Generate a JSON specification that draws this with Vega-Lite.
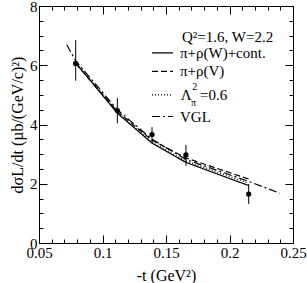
{
  "$schema": "https://vega.github.io/schema/vega-lite/v6.json",
  "width": 254,
  "height": 237,
  "autosize": {"type": "none"},
  "padding": {"left": 39, "top": 6, "right": 14, "bottom": 40},
  "config": {
    "view": {"stroke": "black", "strokeWidth": 1},
    "font": "Liberation Serif",
    "axis": {"domainColor": "black", "tickColor": "black", "labelColor": "black", "titleColor": "black", "labelFont": "Liberation Serif", "titleFont": "Liberation Serif", "labelFontSize": 15, "titleFontSize": 16, "titleFontWeight": "normal", "grid": false, "labelOverlap": false, "labelFlush": false, "labelBound": false}
  },
  "datasets": {
    "curves": [
      {"series": "solid", "t": 0.0789, "s": 6.08},
      {"series": "solid", "t": 0.1117, "s": 4.38},
      {"series": "solid", "t": 0.139, "s": 3.37},
      {"series": "solid", "t": 0.1657, "s": 2.72},
      {"series": "solid", "t": 0.215, "s": 1.94},
      {"series": "dashed", "t": 0.0789, "s": 6.06},
      {"series": "dashed", "t": 0.1117, "s": 4.44},
      {"series": "dashed", "t": 0.139, "s": 3.47},
      {"series": "dashed", "t": 0.1657, "s": 2.87},
      {"series": "dashed", "t": 0.215, "s": 2.16},
      {"series": "dotted", "t": 0.0789, "s": 6.1},
      {"series": "dotted", "t": 0.1117, "s": 4.4},
      {"series": "dotted", "t": 0.139, "s": 3.4},
      {"series": "dotted", "t": 0.1657, "s": 2.77},
      {"series": "dotted", "t": 0.215, "s": 2.02},
      {"series": "vgl", "t": 0.0718, "s": 6.69},
      {"series": "vgl", "t": 0.0789, "s": 6.15},
      {"series": "vgl", "t": 0.1117, "s": 4.5},
      {"series": "vgl", "t": 0.139, "s": 3.5},
      {"series": "vgl", "t": 0.1657, "s": 2.82},
      {"series": "vgl", "t": 0.215, "s": 2.08},
      {"series": "vgl", "t": 0.2398, "s": 1.68}
    ],
    "points": [
      {"t": 0.0789, "s": 6.06, "lo": 5.48, "hi": 6.85},
      {"t": 0.1117, "s": 4.47, "lo": 4.04, "hi": 4.89},
      {"t": 0.139, "s": 3.66, "lo": 3.39, "hi": 3.91},
      {"t": 0.1657, "s": 2.97, "lo": 2.6, "hi": 3.31},
      {"t": 0.2151, "s": 1.65, "lo": 1.32, "hi": 1.99}
    ],
    "legendLines": [
      {"series": "solid", "x1": 0.139, "x2": 0.1555, "y": 6.42},
      {"series": "dashed", "x1": 0.139, "x2": 0.1555, "y": 5.79},
      {"series": "dotted", "x1": 0.139, "x2": 0.1555, "y": 5.0},
      {"series": "vgl", "x1": 0.139, "x2": 0.1555, "y": 4.27}
    ],
    "legendText": [
      {"label": "Q²=1.6, W=2.2", "x": 0.1626, "y": 6.96, "kind": "big"},
      {"label": "π+ρ(W)+cont.", "x": 0.161, "y": 6.42, "kind": "big"},
      {"label": "π+ρ(V)", "x": 0.161, "y": 5.79, "kind": "big"},
      {"label": "Λ", "x": 0.1617, "y": 5.0, "kind": "big"},
      {"label": "π", "x": 0.1696, "y": 4.73, "kind": "small"},
      {"label": "2", "x": 0.1706, "y": 5.27, "kind": "small"},
      {"label": "=0.6", "x": 0.1768, "y": 5.0, "kind": "big"},
      {"label": "VGL", "x": 0.161, "y": 4.27, "kind": "big"}
    ]
  },
  "layer": [
    {
      "data": {"name": "curves"},
      "mark": {"type": "line", "color": "black", "strokeWidth": 1.2, "clip": true},
      "encoding": {
        "x": {"field": "t", "type": "quantitative", "scale": {"domain": [0.05, 0.25], "nice": false, "zero": false},
          "axis": {"orient": "bottom", "title": "-t (GeV²)", "titlePadding": 3,
            "values": [0.05,0.06,0.07,0.08,0.09,0.1,0.11,0.12,0.13,0.14,0.15,0.16,0.17,0.18,0.19,0.2,0.21,0.22,0.23,0.24,0.25],
            "format": ".2~f",
            "labelExpr": "round(datum.value*100) % 5 === 0 ? datum.label : ''",
            "tickSize": {"condition": {"test": "round(datum.value*100) % 5 === 0", "value": -8}, "value": -4},
            "labelPadding": 10}},
        "y": {"field": "s", "type": "quantitative", "scale": {"domain": [0, 8], "nice": false, "zero": false},
          "axis": {"orient": "left", "title": "dσL/dt (µb/(GeV/c)²)", "titlePadding": 4,
            "values": [0,0.5,1,1.5,2,2.5,3,3.5,4,4.5,5,5.5,6,6.5,7,7.5,8],
            "format": ".1~f",
            "labelExpr": "datum.value % 2 === 0 ? datum.label : ''",
            "tickSize": {"condition": {"test": "datum.value % 2 === 0", "value": -8}, "value": -4},
            "labelPadding": 10}},
        "detail": {"field": "series"},
        "strokeDash": {"field": "series", "type": "nominal", "legend": null,
          "scale": {"domain": ["solid", "dashed", "dotted", "vgl"], "range": [[1, 0], [6, 3], [1, 2], [8, 3, 2, 3]]}}
      }
    },
    {
      "data": {"name": "points"},
      "mark": {"type": "rule", "color": "black", "strokeWidth": 1},
      "encoding": {
        "x": {"field": "t", "type": "quantitative",
          "axis": {"orient": "top", "title": null, "labels": false,
            "values": [0.05,0.06,0.07,0.08,0.09,0.1,0.11,0.12,0.13,0.14,0.15,0.16,0.17,0.18,0.19,0.2,0.21,0.22,0.23,0.24,0.25],
            "tickSize": {"condition": {"test": "round(datum.value*100) % 5 === 0", "value": -8}, "value": -4}}},
        "y": {"field": "lo", "type": "quantitative",
          "axis": {"orient": "right", "title": null, "labels": false,
            "values": [0,0.5,1,1.5,2,2.5,3,3.5,4,4.5,5,5.5,6,6.5,7,7.5,8],
            "tickSize": {"condition": {"test": "datum.value % 2 === 0", "value": -8}, "value": -4}}},
        "y2": {"field": "hi"}
      }
    },
    {
      "data": {"name": "points"},
      "mark": {"type": "circle", "color": "black", "opacity": 1, "size": 28},
      "encoding": {
        "x": {"field": "t", "type": "quantitative", "axis": null},
        "y": {"field": "s", "type": "quantitative", "axis": null}
      }
    },
    {
      "data": {"name": "legendLines"},
      "mark": {"type": "rule", "color": "black", "strokeWidth": 1.2},
      "encoding": {
        "x": {"field": "x1", "type": "quantitative", "axis": null},
        "x2": {"field": "x2"},
        "y": {"field": "y", "type": "quantitative", "axis": null},
        "strokeDash": {"field": "series", "type": "nominal", "legend": null}
      }
    },
    {
      "data": {"name": "legendText"},
      "transform": [{"filter": "datum.kind === 'big'"}],
      "mark": {"type": "text", "align": "left", "baseline": "middle", "fontSize": 15, "font": "Liberation Serif", "color": "black"},
      "encoding": {
        "x": {"field": "x", "type": "quantitative", "axis": null},
        "y": {"field": "y", "type": "quantitative", "axis": null},
        "text": {"field": "label"}
      }
    },
    {
      "data": {"name": "legendText"},
      "transform": [{"filter": "datum.kind === 'small'"}],
      "mark": {"type": "text", "align": "left", "baseline": "middle", "fontSize": 10, "font": "Liberation Serif", "color": "black"},
      "encoding": {
        "x": {"field": "x", "type": "quantitative", "axis": null},
        "y": {"field": "y", "type": "quantitative", "axis": null},
        "text": {"field": "label"}
      }
    }
  ],
  "resolve": {"axis": {"x": "independent", "y": "independent"}}
}
